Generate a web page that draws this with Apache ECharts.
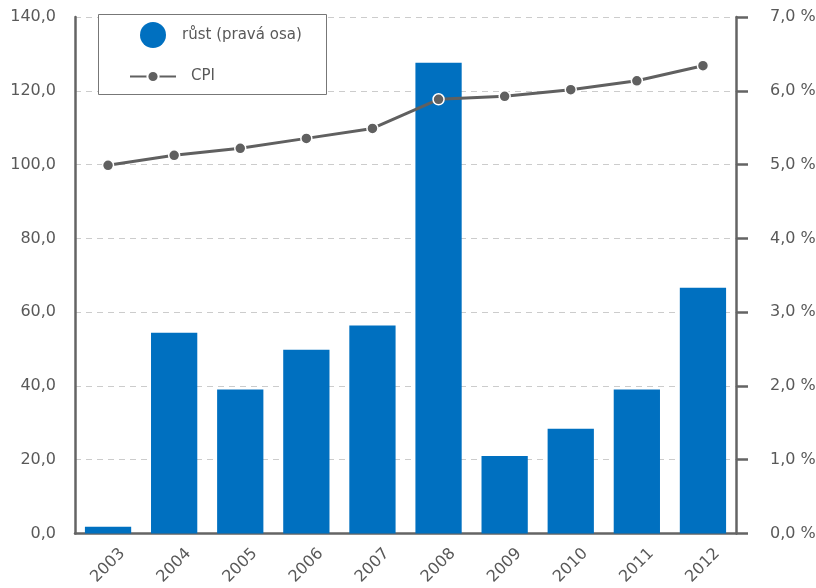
<!DOCTYPE html>
<html>
<head>
<meta charset="utf-8">
<script src="https://cdn.jsdelivr.net/npm/echarts@6/dist/echarts.min.js"></script>
<style>html,body{margin:0;padding:0;background:#fff}#c{width:816px;height:588px}</style>
</head>
<body>
<div id="c"></div>
<script>
var years = ['2003','2004','2005','2006','2007','2008','2009','2010','2011','2012'];
var growthPct = [0.09, 2.72, 1.95, 2.49, 2.82, 6.38, 1.05, 1.42, 1.95, 3.33];
var cpi = [99.8, 102.5, 104.4, 107.1, 109.8, 117.7, 118.5, 120.3, 122.7, 126.8];
var seriesNames = ['růst (pravá osa)', 'CPI'];

var axisColor = '#646464';
var textColor = '#595959';
var font = 'DejaVu Sans';
function comma(v){ return v.toFixed(1).replace('.', ','); }

var chart = echarts.init(document.getElementById('c'), null, {renderer:'canvas'});
chart.setOption({
  animation: false,
  backgroundColor: '#fff',
  textStyle: {fontFamily: font},
  grid: {left: 75, right: 80, top: 17, bottom: 54.5, containLabel: false, outerBoundsMode: 'none'},
  graphic: [{
    type: 'rect', z: 5,
    shape: {x: 98.5, y: 14.5, width: 228, height: 80},
    style: {fill: '#fff', stroke: '#777', lineWidth: 1}
  }],
  legend: [{
    data: [{name: seriesNames[0], icon: 'circle'}],
    left: 135, top: 17, z: 10,
    itemWidth: 26, itemHeight: 26,
    textStyle: {color: textColor, fontSize: 15, fontFamily: font, padding: [0,0,0,11]}
  },{
    data: [{name: seriesNames[1]}],
    left: 124, top: 64, z: 10,
    itemWidth: 46, itemHeight: 14,
    textStyle: {color: textColor, fontSize: 15, fontFamily: font, padding: [0,0,0,10]}
  }],
  xAxis: {
    type: 'category', data: years,
    axisLine: {show: true, lineStyle: {color: axisColor, width: 2.5}},
    axisTick: {show: false},
    axisLabel: {color: textColor, fontSize: 16, fontFamily: font, rotate: 45,
      align: 'center', verticalAlign: 'middle', margin: 32, interval: 0}
  },
  yAxis: [{
    type: 'value', min: 0, max: 140, interval: 20, position: 'left',
    axisLine: {show: true, lineStyle: {color: axisColor, width: 2.5}},
    axisTick: {show: false},
    axisLabel: {color: textColor, fontSize: 16, fontFamily: font, margin: 19,
      formatter: function(v){ return comma(v); }},
    splitLine: {show: true, lineStyle: {color: '#cccccc', type: [6, 5], width: 1}}
  },{
    type: 'value', min: 0, max: 7, interval: 1, position: 'right',
    axisLine: {show: true, lineStyle: {color: axisColor, width: 2.5}},
    axisTick: {show: true, inside: false, length: 12, lineStyle: {color: axisColor, width: 2.5}},
    axisLabel: {color: textColor, fontSize: 16, fontFamily: font, margin: 34,
      formatter: function(v){ return comma(v) + ' %'; }},
    splitLine: {show: false}
  }],
  series: [{
    name: seriesNames[0], type: 'bar', yAxisIndex: 1, data: growthPct,
    barCategoryGap: '30%',
    itemStyle: {color: '#0070c0'}
  },{
    name: seriesNames[1], type: 'line', yAxisIndex: 0, data: cpi,
    symbol: 'circle', symbolSize: 11, z: 3,
    lineStyle: {color: '#606060', width: 3},
    itemStyle: {color: '#606060', borderColor: '#fff', borderWidth: 1.5}
  }]
});
</script>
</body>
</html>
